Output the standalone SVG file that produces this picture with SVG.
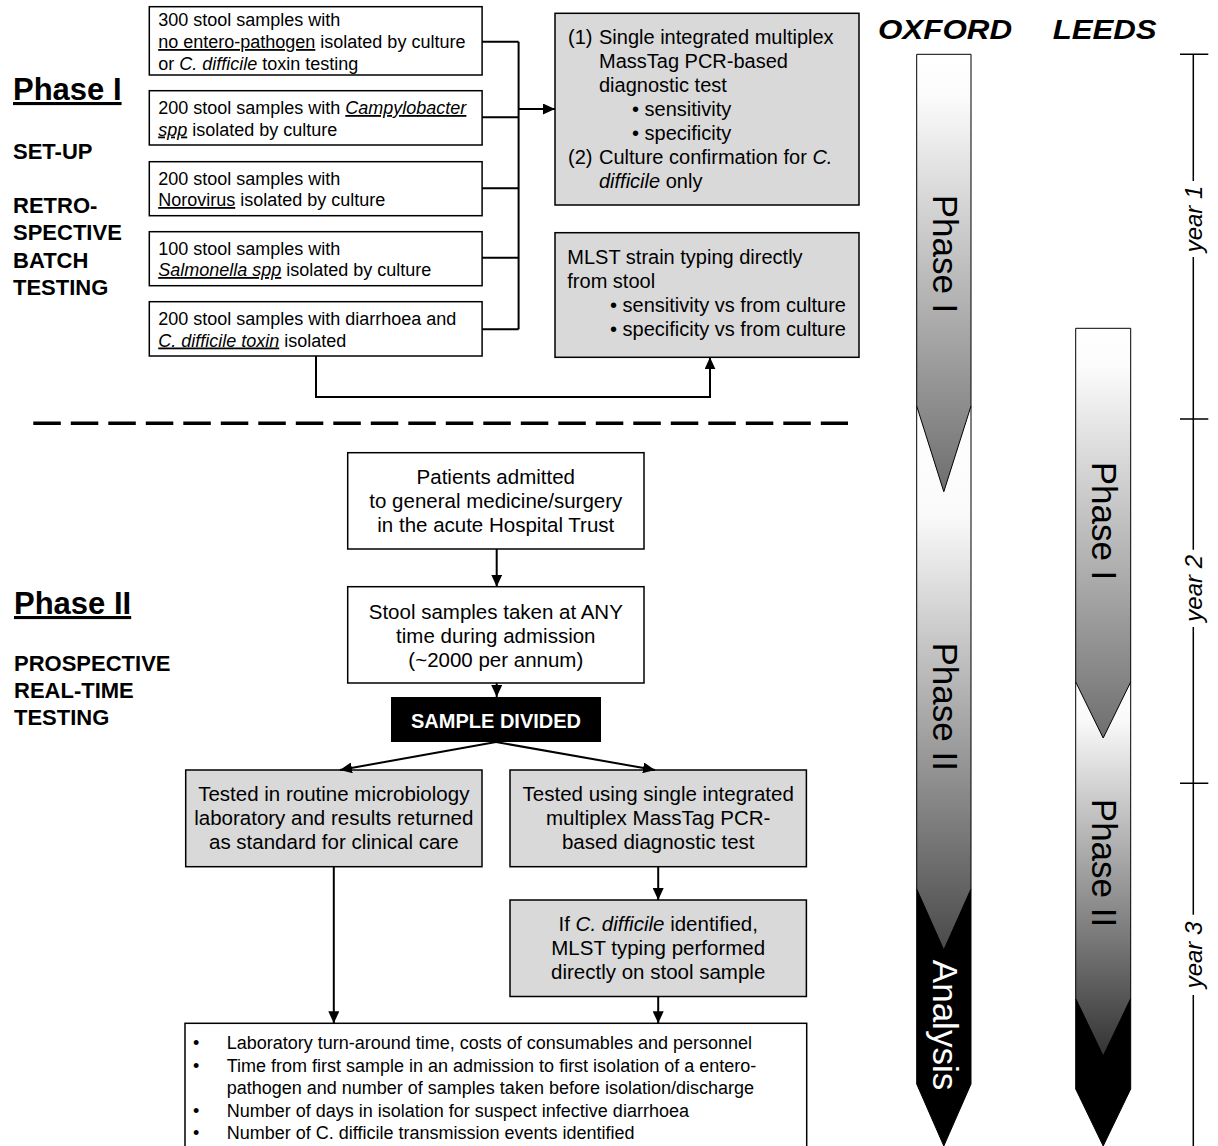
<svg xmlns="http://www.w3.org/2000/svg" width="1218" height="1146" viewBox="0 0 1218 1146">
<defs>
<style>
text{font-family:"Liberation Sans",Arial,sans-serif;fill:#000}
.src{font-size:18px}
.box{fill:#fff;stroke:#000;stroke-width:1.5}
.gbox{fill:#d9d9d9;stroke:#000;stroke-width:1.5}
.t20{font-size:20px}
.t205{font-size:20.5px}
.c{text-anchor:middle}
.lbl{font-size:22px;font-weight:bold}
.ph{font-size:31px;font-weight:bold;text-decoration:underline}
.conn{fill:none;stroke:#000;stroke-width:2}
.bar{stroke:#000;stroke-width:1}
.bt{font-size:35px}
.yr{font-size:24px;font-style:italic}
.site{font-size:28px;font-weight:bold;font-style:italic}
.i{font-style:italic}
.u{text-decoration:underline}
</style>
<marker id="ah" viewBox="0 0 12 11" refX="12" refY="5.5" markerWidth="12" markerHeight="11" markerUnits="userSpaceOnUse" orient="auto">
<path d="M0,0 L12,5.5 L0,11 z" fill="#000"/>
</marker>
<linearGradient id="gOxP1" gradientUnits="userSpaceOnUse" x1="0" y1="54" x2="0" y2="492">
<stop offset="0" stop-color="#ffffff"/><stop offset="0.1" stop-color="#fbfbfb"/><stop offset="1" stop-color="#6e6e6e"/>
</linearGradient>
<linearGradient id="gOxP2" gradientUnits="userSpaceOnUse" x1="0" y1="406" x2="0" y2="950">
<stop offset="0" stop-color="#ffffff"/><stop offset="0.2" stop-color="#fafafa"/><stop offset="1" stop-color="#4a4a4a"/>
</linearGradient>
<linearGradient id="gLeP1" gradientUnits="userSpaceOnUse" x1="0" y1="328" x2="0" y2="738">
<stop offset="0" stop-color="#ffffff"/><stop offset="0.1" stop-color="#fbfbfb"/><stop offset="1" stop-color="#6e6e6e"/>
</linearGradient>
<linearGradient id="gLeP2" gradientUnits="userSpaceOnUse" x1="0" y1="682" x2="0" y2="1056">
<stop offset="0" stop-color="#ffffff"/><stop offset="0.1" stop-color="#fafafa"/><stop offset="1" stop-color="#333333"/>
</linearGradient>
</defs>
<rect width="1218" height="1146" fill="#fff"/>

<!-- side labels -->
<g id="label-phase1">
<text class="ph" x="13" y="100">Phase I</text>
<text class="lbl" x="13" y="158.5">SET-UP</text>
<text class="lbl" x="13" y="213">RETRO-</text>
<text class="lbl" x="13" y="240">SPECTIVE</text>
<text class="lbl" x="13" y="267.5">BATCH</text>
<text class="lbl" x="13" y="295">TESTING</text>
</g>
<g id="label-phase2">
<text class="ph" x="14" y="614">Phase II</text>
<text class="lbl" x="14" y="671">PROSPECTIVE</text>
<text class="lbl" x="14" y="698">REAL-TIME</text>
<text class="lbl" x="14" y="725">TESTING</text>
</g>

<!-- Phase I sources -->
<g id="src1">
<rect class="box" x="149.3" y="6.7" width="332.8" height="68.3"/>
<text class="src" x="158.2" y="26">300 stool samples with</text>
<text class="src" x="158.2" y="48"><tspan class="u">no entero-pathogen</tspan> isolated by culture</text>
<text class="src" x="158.2" y="70">or <tspan class="i">C. difficile</tspan> toxin testing</text>
</g>
<g id="src2">
<rect class="box" x="149.3" y="90.7" width="332.8" height="54.3"/>
<text class="src" x="158.2" y="114">200 stool samples with <tspan class="i u">Campylobacter</tspan></text>
<text class="src" x="158.2" y="135.5"><tspan class="i u">spp</tspan> isolated by culture</text>
</g>
<g id="src3">
<rect class="box" x="149.3" y="161.7" width="332.8" height="54"/>
<text class="src" x="158.2" y="184.5">200 stool samples with</text>
<text class="src" x="158.2" y="206"><tspan class="u">Norovirus</tspan> isolated by culture</text>
</g>
<g id="src4">
<rect class="box" x="149.3" y="231.7" width="332.8" height="54"/>
<text class="src" x="158.2" y="254.5">100 stool samples with</text>
<text class="src" x="158.2" y="276"><tspan class="i u">Salmonella spp</tspan> isolated by culture</text>
</g>
<g id="src5">
<rect class="box" x="149.3" y="301.7" width="332.8" height="54.3"/>
<text class="src" x="158.2" y="324.5">200 stool samples with diarrhoea and</text>
<text class="src" x="158.2" y="346.5"><tspan class="i u">C. difficile toxin</tspan> isolated</text>
</g>

<g id="test1">
<rect class="gbox" x="555" y="13.3" width="304" height="191.7"/>
<text class="t20" x="568" y="44">(1)</text>
<text class="t20" x="599" y="44">Single integrated multiplex</text>
<text class="t20" x="599" y="68">MassTag PCR-based</text>
<text class="t20" x="599" y="92">diagnostic test</text>
<text class="t20" x="632" y="116">• sensitivity</text>
<text class="t20" x="632" y="140">• specificity</text>
<text class="t20" x="568" y="164">(2)</text>
<text class="t20" x="599" y="164">Culture confirmation for <tspan class="i">C.</tspan></text>
<text class="t20" x="599" y="188"><tspan class="i">difficile</tspan> only</text>
</g>
<g id="mlst1">
<rect class="gbox" x="555" y="232.7" width="304" height="124.6"/>
<text class="t20" x="567.3" y="264">MLST strain typing directly</text>
<text class="t20" x="567.3" y="288">from stool</text>
<text class="t20" x="610" y="312">• sensitivity vs from culture</text>
<text class="t20" x="610" y="336">• specificity vs from culture</text>
</g>

<!-- divider -->
<line id="divider" x1="33.3" y1="423.3" x2="848" y2="423.3" stroke="#000" stroke-width="3.5" stroke-dasharray="27.5 10"/>

<!-- Phase II -->
<g id="patients">
<rect class="box" x="347.7" y="452.7" width="296.3" height="96.3"/>
<text class="t205 c" x="495.8" y="484">Patients admitted</text>
<text class="t205 c" x="495.8" y="508">to general medicine/surgery</text>
<text class="t205 c" x="495.8" y="532">in the acute Hospital Trust</text>
</g>
<g id="stool">
<rect class="box" x="347.7" y="586.7" width="296.3" height="96.3"/>
<text class="t205 c" x="495.8" y="618.5">Stool samples taken at ANY</text>
<text class="t205 c" x="495.8" y="642.5">time during admission</text>
<text class="t205 c" x="495.8" y="666.5">(~2000 per annum)</text>
</g>
<g id="divided">
<rect x="391" y="697" width="210" height="45" fill="#000"/>
<text x="496" y="728" style="font-size:20px;font-weight:bold;fill:#fff;text-anchor:middle">SAMPLE DIVIDED</text>
</g>
<g id="routine">
<rect class="gbox" x="185.7" y="770" width="296.3" height="96.7"/>
<text class="t205 c" x="333.8" y="801.3">Tested in routine microbiology</text>
<text class="t205 c" x="333.8" y="825.3">laboratory and results returned</text>
<text class="t205 c" x="333.8" y="849.3">as standard for clinical care</text>
</g>
<g id="masstag">
<rect class="gbox" x="510" y="770" width="296.4" height="96.7"/>
<text class="t205 c" x="658.2" y="801.3">Tested using single integrated</text>
<text class="t205 c" x="658.2" y="825.3">multiplex MassTag PCR-</text>
<text class="t205 c" x="658.2" y="849.3">based diagnostic test</text>
</g>
<g id="mlst2">
<rect class="gbox" x="510" y="900" width="296.4" height="96.5"/>
<text class="t205 c" x="658.2" y="931">If <tspan class="i">C. difficile</tspan> identified,</text>
<text class="t205 c" x="658.2" y="955">MLST typing performed</text>
<text class="t205 c" x="658.2" y="979">directly on stool sample</text>
</g>
<g id="outcomes">
<rect class="box" x="185" y="1023.3" width="621.7" height="140"/>
<text class="src" x="193" y="1049">•</text>
<text class="src" x="226.7" y="1049">Laboratory turn-around time, costs of consumables and personnel</text>
<text class="src" x="193" y="1071.5">•</text>
<text class="src" x="226.7" y="1071.5">Time from first sample in an admission to first isolation of a entero-</text>
<text class="src" x="226.7" y="1094">pathogen and number of samples taken before isolation/discharge</text>
<text class="src" x="193" y="1116.5">•</text>
<text class="src" x="226.7" y="1116.5">Number of days in isolation for suspect infective diarrhoea</text>
<text class="src" x="193" y="1139">•</text>
<text class="src" x="226.7" y="1139">Number of C. difficile transmission events identified</text>
</g>

<!-- connectors -->
<g id="connectors" class="conn">
<path class="conn" d="M482,41.7 H518.6 M482,117.3 H518.6 M482,188.3 H518.6 M482,257.7 H518.6 M482,329.3 H518.6 M518.6,41.7 V329.3"/>
<path class="conn" d="M518.6,109 H555" marker-end="url(#ah)"/>
<path class="conn" d="M316,356 V397 H710 V357.3" marker-end="url(#ah)"/>
<path class="conn" d="M496.7,549 V586.7" marker-end="url(#ah)"/>
<path class="conn" d="M496.7,683 V697" marker-end="url(#ah)"/>
<path class="conn" d="M496,742 L340,770" marker-end="url(#ah)"/>
<path class="conn" d="M496,742 L655,770" marker-end="url(#ah)"/>
<path class="conn" d="M658.2,866.7 V900" marker-end="url(#ah)"/>
<path class="conn" d="M333.8,866.7 V1023.3" marker-end="url(#ah)"/>
<path class="conn" d="M658.2,996.5 V1023.3" marker-end="url(#ah)"/>
</g>

<!-- timeline bars -->
<g id="oxford">
<text class="site" x="878" y="39.3" textLength="134" lengthAdjust="spacingAndGlyphs">OXFORD</text>
<polygon class="bar" fill="#000" points="916.7,889 971,889 971,1084 943.8,1146 916.7,1084"/>
<polygon class="bar" fill="url(#gOxP2)" points="916.7,406 971,406 971,889 943.8,950 916.7,889"/>
<polygon class="bar" fill="url(#gOxP1)" points="916.7,54.3 971,54.3 971,406 943.8,491.7 916.7,406"/>
<text class="bt" text-anchor="middle" transform="translate(933,254) rotate(90)">Phase I</text>
<text class="bt" text-anchor="middle" transform="translate(933,706.7) rotate(90)">Phase II</text>
<text class="bt" text-anchor="middle" transform="translate(933,1025) rotate(90)" style="fill:#fff">Analysis</text>
</g>
<g id="leeds">
<text class="site" x="1052.7" y="39.3" textLength="104" lengthAdjust="spacingAndGlyphs">LEEDS</text>
<polygon class="bar" fill="#000" points="1075.7,998.5 1130.7,998.5 1130.7,1089 1103.2,1146 1075.7,1089"/>
<polygon class="bar" fill="url(#gLeP2)" points="1075.7,682 1130.7,682 1130.7,998.5 1103.2,1056 1075.7,998.5"/>
<polygon class="bar" fill="url(#gLeP1)" points="1075.7,328.3 1130.7,328.3 1130.7,682 1103.2,738 1075.7,682"/>
<text class="bt" text-anchor="middle" transform="translate(1092,521) rotate(90)">Phase I</text>
<text class="bt" text-anchor="middle" transform="translate(1092,863) rotate(90)">Phase II</text>
</g>
<g id="timeline">
<path fill="none" stroke="#000" stroke-width="1.5" d="M1193.3,54.3 V181 M1193.3,257 V549.7 M1193.3,627 V914.7 M1193.3,995 V1146 M1180,54.3 H1208.3 M1180,419 H1208.3 M1180,783.3 H1208.3"/>
<text class="yr" text-anchor="middle" transform="translate(1202,219) rotate(-90)">year 1</text>
<text class="yr" text-anchor="middle" transform="translate(1202,588.3) rotate(-90)">year 2</text>
<text class="yr" text-anchor="middle" transform="translate(1202,955) rotate(-90)">year 3</text>
</g>
</svg>
